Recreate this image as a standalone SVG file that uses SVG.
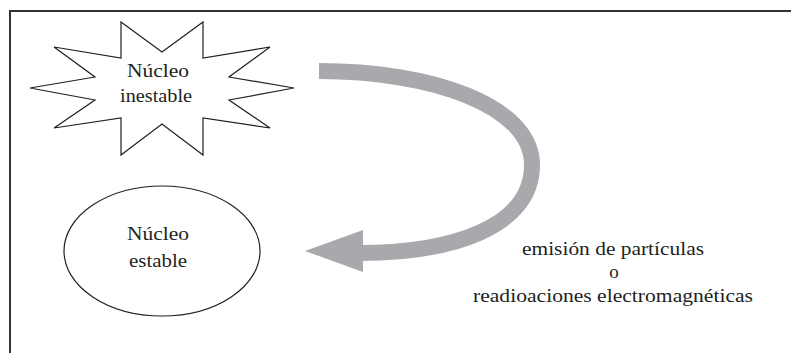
<svg xmlns="http://www.w3.org/2000/svg" width="791" height="353" viewBox="0 0 791 353">
<style>
.frame{fill:none;stroke:#333;stroke-width:2}
.shape{fill:#fff;stroke:#231f20;stroke-width:1.2}
.lbl{font-family:"Liberation Serif",serif;font-size:19px;fill:#231f20;text-anchor:middle}
.cap{font-family:"Liberation Serif",serif;font-size:19px;fill:#231f20;text-anchor:middle}
.conn{fill:none;stroke:#a7a9ac;stroke-width:16}
</style>
<rect width="791" height="353" fill="#fff"/>
<path class="frame" d="M10,353 V11 H791"/>
<g id="nucleo-inestable">
<polygon class="shape" points="121,22 162,52 203,22 203,58 270,47 229,77 294,88 229,100 270,128 203,118 203,155 162,124 121,155 121,118 54,128 95,100 30,88 95,77 54,47 121,58"/>
<text class="lbl" x="158" y="77" textLength="62" lengthAdjust="spacingAndGlyphs">Núcleo</text>
<text class="lbl" x="156" y="102" textLength="72" lengthAdjust="spacingAndGlyphs">inestable</text>
</g>
<g id="nucleo-estable">
<ellipse class="shape" cx="162" cy="251" rx="98" ry="65"/>
<text class="lbl" x="158" y="240" textLength="62" lengthAdjust="spacingAndGlyphs">Núcleo</text>
<text class="lbl" x="158" y="267" textLength="58" lengthAdjust="spacingAndGlyphs">estable</text>
</g>
<g id="connectors">
<path class="conn" d="M319,71 C430,71 532,105 532,165 C532,228 450,253 360,253"/>
<polygon points="305,251 363,230 363,272" fill="#a7a9ac"/>
</g>
<g id="label">
<text class="cap" x="613" y="255" textLength="182" lengthAdjust="spacingAndGlyphs">emisión de partículas</text>
<text class="cap" x="614" y="278">o</text>
<text class="cap" x="613" y="302" textLength="280" lengthAdjust="spacingAndGlyphs">readioaciones electromagnéticas</text>
</g>
</svg>
